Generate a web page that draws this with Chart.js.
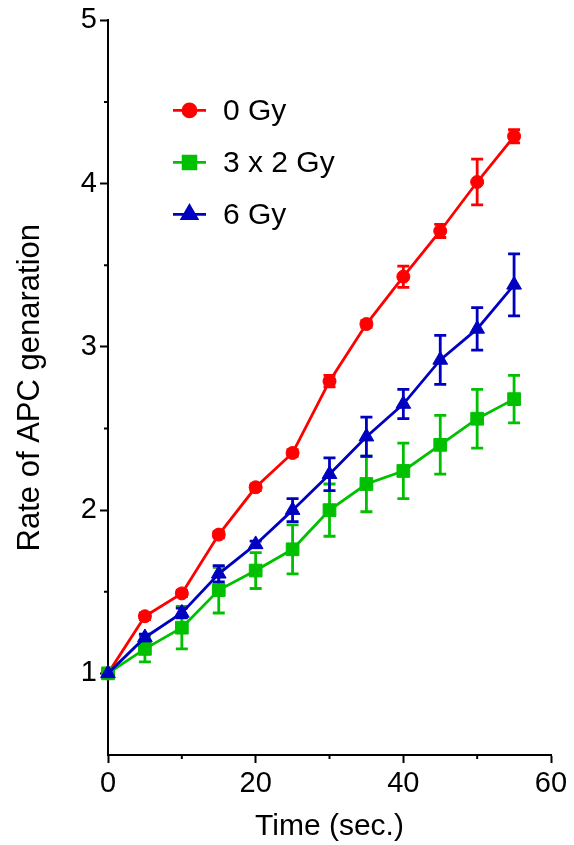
<!DOCTYPE html>
<html><head><meta charset="utf-8">
<script src="https://cdn.jsdelivr.net/npm/chart.js@4/dist/chart.umd.min.js"></script>
<style>html,body{margin:0;padding:0;background:#fff;} #wrap{width:574px;height:845px;}</style>
</head><body><div id="wrap"><canvas id="c" width="574" height="845"></canvas></div>
<script>
const timePoints = [0, 5, 10, 15, 20, 25, 30, 35, 40, 45, 50, 55];
const gy0 =       [1.00, 1.35, 1.49, 1.85, 2.14, 2.35, 2.79, 3.14, 3.43, 3.71, 4.01, 4.29];
const gy0Err =    [0, 0.02, 0.02, 0.02, 0.02, 0.02, 0.035, 0.02, 0.065, 0.04, 0.14, 0.04];
const gy3x2 =     [1.00, 1.15, 1.28, 1.51, 1.63, 1.76, 2.00, 2.16, 2.24, 2.40, 2.56, 2.68];
const gy3x2Err =  [0, 0.08, 0.13, 0.14, 0.11, 0.15, 0.16, 0.17, 0.17, 0.18, 0.18, 0.145];
const gy6 =       [1.00, 1.22, 1.37, 1.61, 1.79, 2.00, 2.22, 2.45, 2.65, 2.92, 3.11, 3.38];
const gy6Err =    [0, 0.02, 0.03, 0.05, 0.02, 0.07, 0.10, 0.12, 0.09, 0.15, 0.13, 0.19];
const seriesLabels = ['0 Gy', '3 x 2 Gy', '6 Gy'];
const xTickLabels = [0, 20, 40, 60];
const yTickLabels = [1, 2, 3, 4, 5];
const xTitle = 'Time (sec.)';
const yTitle = 'Rate of APC genaration';

const FONT = "'Liberation Sans', Arial, sans-serif";
const colors = ['#ff0000', '#00c000', '#0000c0'];
const pts = (ys) => timePoints.map((t, i) => ({x: t, y: ys[i]}));
const errs = [gy0Err, gy3x2Err, gy6Err];

const errorBars = {
  id: 'errorBars',
  afterDatasetDraw(chart, args) {
    const i = args.index;
    const ds = chart.data.datasets[i];
    const e = errs[i];
    const ys = chart.scales.y, xs = chart.scales.x;
    const ctx = chart.ctx;
    ctx.save();
    ctx.strokeStyle = ds.borderColor;
    ctx.lineWidth = 2.8;
    ds.data.forEach((p, k) => {
      if (!e[k]) return;
      const x = xs.getPixelForValue(p.x);
      const y1 = ys.getPixelForValue(p.y + e[k]);
      const y2 = ys.getPixelForValue(p.y - e[k]);
      ctx.beginPath();
      ctx.moveTo(x, y1); ctx.lineTo(x, y2);
      ctx.moveTo(x - 6, y1); ctx.lineTo(x + 6, y1);
      ctx.moveTo(x - 6, y2); ctx.lineTo(x + 6, y2);
      ctx.stroke();
    });
    ctx.restore();
  }
};

const minorTicks = {
  id: 'minorTicks',
  afterDraw(chart) {
    const ctx = chart.ctx;
    const xs = chart.scales.x, ys = chart.scales.y;
    ctx.save();
    ctx.strokeStyle = '#000';
    ctx.lineWidth = 2;
    xs.ticks.forEach(t => {
      if (xTickLabels.includes(t.value)) return;
      const x = xs.getPixelForValue(t.value);
      ctx.beginPath(); ctx.moveTo(x, xs.top); ctx.lineTo(x, xs.top + 4); ctx.stroke();
    });
    ys.ticks.forEach(t => {
      if (yTickLabels.includes(t.value) || t.value === ys.min) return;
      const y = ys.getPixelForValue(t.value);
      ctx.beginPath(); ctx.moveTo(ys.right, y); ctx.lineTo(ys.right - 4, y); ctx.stroke();
    });
    ctx.restore();
  }
};

const legendInside = {
  id: 'legendInside',
  afterDraw(chart) {
    const ctx = chart.ctx;
    const a = chart.chartArea;
    const x0 = a.left + 65, y0 = a.top + 90, gap = 52;
    ctx.save();
    chart.data.datasets.forEach((ds, i) => {
      const y = y0 + i * gap;
      ctx.strokeStyle = ds.borderColor;
      ctx.fillStyle = ds.backgroundColor;
      ctx.lineWidth = 2.8;
      ctx.beginPath(); ctx.moveTo(x0, y); ctx.lineTo(x0 + 33, y); ctx.stroke();
      Chart.helpers.drawPoint(ctx, {pointStyle: ds.pointStyle, radius: ds.pointRadius, rotation: 0, borderWidth: 1}, x0 + 16.5, y);
      ctx.fillStyle = '#000';
      ctx.font = '30px ' + FONT;
      ctx.textBaseline = 'middle';
      ctx.textAlign = 'left';
      ctx.fillText(ds.label, x0 + 50, y + 1);
    });
    ctx.restore();
  }
};

const mk = (label, ys, color, style, radius, order) => ({
  label, data: pts(ys), borderColor: color, backgroundColor: color,
  borderWidth: 2.8, pointStyle: style, pointRadius: radius, pointBorderWidth: 1,
  pointBackgroundColor: color, pointBorderColor: color, clip: false, order, tension: 0
});

new Chart(document.getElementById('c'), {
  type: 'line',
  data: {
    datasets: [
      mk(seriesLabels[0], gy0, colors[0], 'circle', 6.5, 2),
      mk(seriesLabels[1], gy3x2, colors[1], 'rect', 9, 1),
      mk(seriesLabels[2], gy6, colors[2], 'triangle', 8.5, 0)
    ]
  },
  plugins: [errorBars, minorTicks, legendInside],
  options: {
    responsive: false,
    animation: false,
    devicePixelRatio: 1,
    layout: {padding: {top: 20, right: 23, left: 0, bottom: 0}},
    plugins: {legend: {display: false}, tooltip: {enabled: false}},
    scales: {
      x: {
        type: 'linear', min: 0, max: 60,
        afterFit(s) { s.height = 90; },
        ticks: {stepSize: 10, autoSkip: false, maxRotation: 0, padding: 4, color: '#000',
          font: {family: FONT, size: 29},
          callback: v => xTickLabels.includes(v) ? String(v) : ''},
        grid: {drawOnChartArea: false, drawTicks: true, tickLength: 8, tickWidth: 2,
          tickColor: c => (c.tick && xTickLabels.includes(c.tick.value)) ? '#000' : 'rgba(0,0,0,0)'},
        border: {display: true, color: '#000', width: 2},
        title: {display: true, text: xTitle, color: '#000', font: {family: FONT, size: 30}, padding: {top: 0, bottom: 0}}
      },
      y: {
        type: 'linear', min: 0.5, max: 5,
        afterFit(s) { s.width = 108; },
        ticks: {stepSize: 0.5, autoSkip: false, padding: 3, color: '#000',
          font: {family: FONT, size: 29},
          callback: v => yTickLabels.includes(v) ? String(v) : ''},
        grid: {drawOnChartArea: false, drawTicks: true, tickLength: 8, tickWidth: 2,
          tickColor: c => (c.tick && yTickLabels.includes(c.tick.value)) ? '#000' : 'rgba(0,0,0,0)'},
        border: {display: true, color: '#000', width: 2},
        title: {display: true, text: yTitle, color: '#000', font: {family: FONT, size: 31}, padding: {top: 12, bottom: 0}}
      }
    }
  }
});
</script>
</body></html>
